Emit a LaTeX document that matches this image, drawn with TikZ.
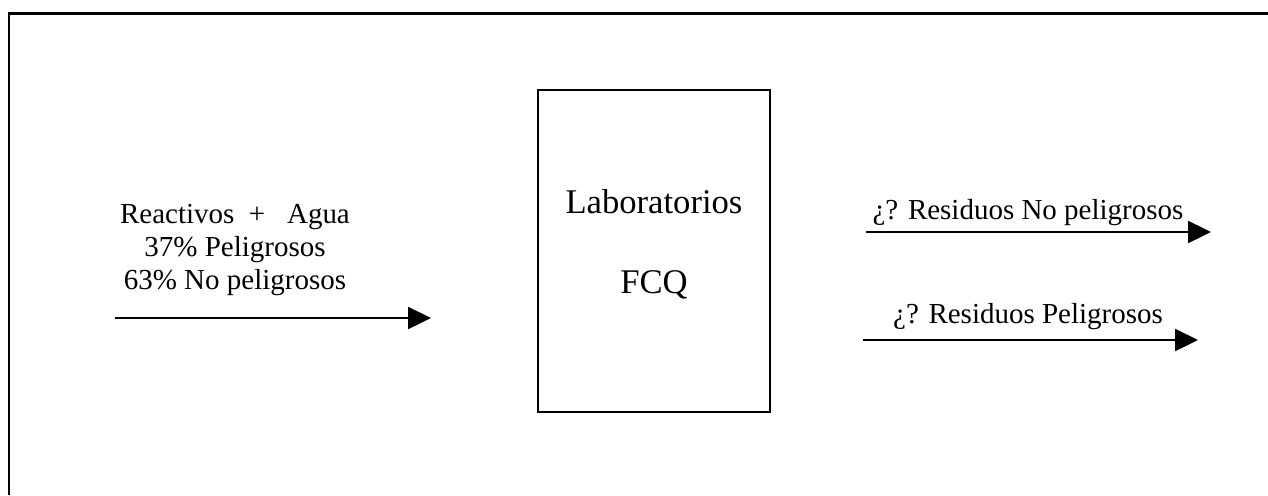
\documentclass[tikz,border=0pt]{standalone}
\usepackage{fontspec}
\setmainfont{Liberation Serif}
\usetikzlibrary{arrows.meta}

\begin{document}
\begin{tikzpicture}[x=0.02cm, y=-0.02cm]
\tikzset{lab/.style={rectangle, draw=black, line width=1.1pt, minimum width=4.64cm, minimum height=6.44cm, inner sep=0pt},
big/.style={font=\fontsize{19.7}{22}\selectfont, anchor=base, inner sep=0pt},
txt/.style={font=\fontsize{16.5}{19}\selectfont, inner sep=0pt},
f/.style={-{Triangle[length=13pt, width=12.5pt]}, line width=1.1pt}};

\useasboundingbox (0,0) rectangle (1268,495);
\draw[line width=1.7pt] (1268,13) -- (9,13) -- (9,495);

\node[lab] (fcq) at (654,251) {};
\node[big] (labtxt) at (654,213) {Laboratorios};
\node[big] (fcqtxt) at (654,293) {FCQ};

\node[txt, align=center] (entrada) at (235,250) {Reactivos\ \ +\ \ \ Agua\\37\% Peligrosos\\63\% No peligrosos};
\coordinate (e0) at (115,318);
\coordinate (e1) at (431,318);

\node[txt, anchor=base] (nopel) at (1028,219) {¿? Residuos No peligrosos};
\coordinate (s0) at (866,232);
\coordinate (s1) at (1211,232);

\node[txt, anchor=base] (pel) at (1028,323) {¿? Residuos Peligrosos};
\coordinate (p0) at (863,340);
\coordinate (p1) at (1198,340);

\foreach \a/\b in {e0/e1, s0/s1, p0/p1} {
	\draw[f] (\a) -- (\b);
}

\end{tikzpicture}
\end{document}
